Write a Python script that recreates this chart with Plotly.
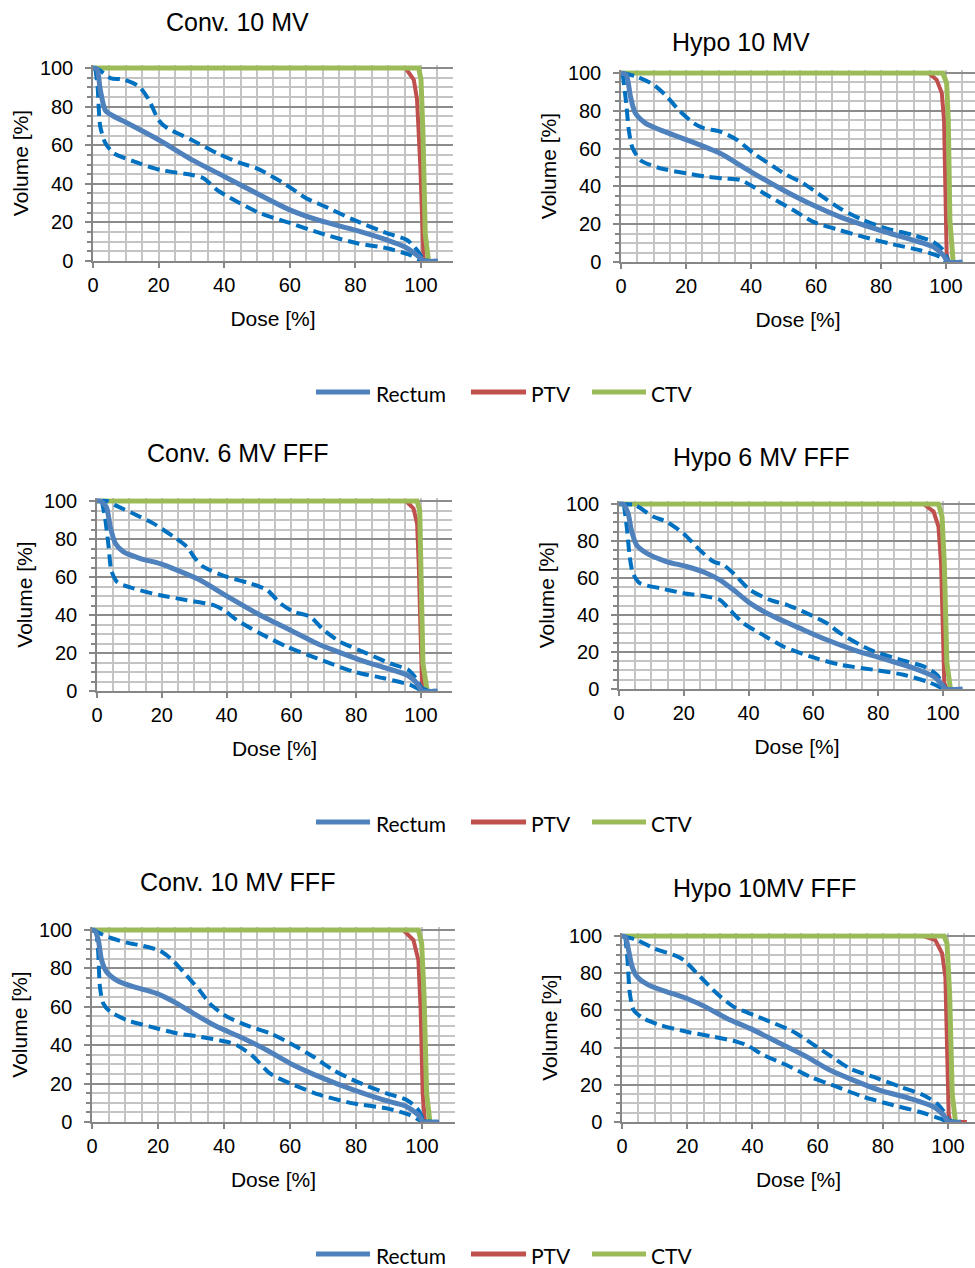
import plotly.graph_objects as go

FIG_W, FIG_H = 975, 1268

PANEL_TITLES = ["Conv. 10 MV", "Hypo 10 MV", "Conv. 6 MV FFF",
                "Hypo 6 MV FFF", "Conv. 10 MV FFF", "Hypo 10MV FFF"]
SERIES_NAMES = ["Rectum", "PTV", "CTV"]
DOSE_TICKS = [0, 20, 40, 60, 80, 100]
VOLUME_TICKS = [0, 20, 40, 60, 80, 100]
X_TITLE = "Dose [%]"
Y_TITLE = "Volume [%]"

# ---------------- Conv. 10 MV ----------------
C10_MEAN_DOSE = [0, 1.2, 2.2, 3.8, 6.3, 10.4, 20, 30.2, 40, 50, 60, 69, 80, 89.6, 95, 98.8, 101, 105]
C10_MEAN_VOL = [100, 99.5, 88.8, 78, 75, 71.5, 62.8, 52.4, 43.8, 35, 26.5, 21, 16, 10.9, 7.4, 3, 0, 0]
C10_MAX_DOSE = [0, 1.5, 5.3, 9.3, 14, 17, 20, 22.6, 30, 37.8, 45, 50, 59, 65, 70.8, 79.5, 89.6, 95.7, 98.8, 101, 105]
C10_MAX_VOL = [100, 99.5, 94.8, 94, 90.5, 83.6, 73, 68.9, 62.8, 55.9, 50.7, 48, 39.4, 32.5, 28.2, 21.3, 14.4, 10.9, 5.7, 0.5, 0]
C10_MIN_DOSE = [0.7, 1.4, 2.2, 3.8, 6.3, 12.4, 20.5, 30.2, 33.7, 37.8, 42.9, 51, 60.2, 69.3, 80.5, 89.6, 96.7, 99.8, 105]
C10_MIN_VOL = [100, 90.5, 69.7, 61, 55.9, 51.6, 47.2, 44.6, 42.9, 36.9, 31.7, 24.7, 19.6, 14.4, 9.2, 6.6, 3.1, 0.5, 0]
C10_PTV_DOSE = [0, 95.3, 97.8, 98.8, 99.8, 100.3, 100.8, 103]
C10_PTV_VOL = [100, 100, 93.9, 83.6, 49, 14.4, 0.5, 0]
C10_CTV_DOSE = [0, 99.3, 100, 100.6, 101.3, 102.3]
C10_CTV_VOL = [100, 100, 94, 66, 14, 0]

# ---------------- Hypo 10 MV ----------------
H10_MEAN_DOSE = [0, 1.6, 2.9, 4.4, 7.5, 12, 20.3, 30.5, 35.7, 40.8, 50, 59.2, 67.4, 79.7, 90, 96.1, 99.2, 100.7, 105]
H10_MEAN_VOL = [100, 99, 87.6, 78.8, 73.5, 69.9, 64.6, 57.5, 52.2, 46.9, 38, 30, 23.9, 16.8, 11.5, 8, 3.5, 0, 0]
H10_MAX_DOSE = [0.3, 4.9, 10, 14.1, 17.7, 22.3, 25.4, 30.5, 35.7, 40.8, 47, 51, 56.1, 61.3, 67.4, 74.6, 81.8, 90, 96.1, 99.2, 100.2, 101, 105]
H10_MAX_VOL = [100, 98, 93.8, 87.6, 80.5, 73.5, 70.8, 69, 64.6, 57.5, 50.4, 46, 41.6, 35.4, 28.3, 22.1, 17.7, 14.2, 10.6, 6.2, 2.7, 0, 0]
H10_MIN_DOSE = [0.5, 1.6, 2.4, 3.4, 5.9, 12, 20.3, 26.4, 31.6, 36.7, 39.8, 44.9, 53.1, 59.2, 67.4, 74.6, 82.8, 92, 98.2, 100.2, 105]
H10_MIN_VOL = [100, 84, 69.9, 61, 54, 49.6, 46.9, 45.1, 44.2, 43.4, 40.7, 35.4, 27.4, 21.2, 16.8, 13.3, 9.7, 6.2, 2.7, 0, 0]
H10_PTV_DOSE = [0, 94.6, 97.1, 98.7, 99.4, 99.7, 100.2, 100.7, 103]
H10_PTV_VOL = [100, 100, 96.5, 89.4, 75, 39.8, 4.4, 0, 0]
H10_CTV_DOSE = [0, 99, 100.2, 100.7, 101.2, 102.2]
H10_CTV_VOL = [100, 100, 94.7, 75, 22, 0]

# ---------------- Conv. 6 MV FFF ----------------
C6F_MEAN_DOSE = [0, 1, 2.9, 4.1, 5.7, 8.2, 13.4, 19.5, 24.7, 31.9, 37, 42.2, 49.4, 59.7, 67.9, 73, 81.3, 89.5, 95.7, 98.8, 100.3, 105]
C6F_MEAN_VOL = [100, 100, 96.8, 86.3, 77.6, 73.2, 69.7, 67, 63.6, 58.3, 53.1, 47.8, 40.8, 32, 25, 21.5, 16.3, 11.9, 8.4, 4, 0, 0]
C6F_MAX_DOSE = [0, 3.1, 5.7, 11.3, 17.5, 23.7, 27.8, 30.3, 32.9, 40.1, 47.3, 52.5, 56.6, 60.7, 65.8, 70, 75.1, 83.3, 90.5, 96.2, 98.8, 100.3, 105]
C6F_MAX_VOL = [100, 100, 97.7, 93.3, 88.1, 81.1, 75.8, 69.7, 65.3, 60.1, 56.6, 53.1, 46.1, 41.7, 39.1, 32, 25.9, 19.8, 14.5, 11, 5.8, 1.4, 0]
C6F_MIN_DOSE = [1.5, 2.6, 3.6, 4.4, 6.2, 11.3, 19.5, 27.8, 36, 39.1, 43.2, 50.4, 58.6, 67.9, 79.2, 88.5, 96.7, 100, 105]
C6F_MIN_VOL = [100, 89.8, 75.8, 63.6, 57.4, 54, 50.4, 47.8, 45.2, 42.6, 37.3, 30.3, 23.3, 17.2, 10.2, 6.7, 3.2, 0.5, 0]
C6F_PTV_DOSE = [0, 95.4, 97.7, 98.8, 99.3, 99.8, 100.3, 101.3, 104.4]
C6F_PTV_VOL = [100, 100, 96, 88, 67, 32, 4, 0, 0]
C6F_CTV_DOSE = [0, 98.8, 99.6, 100, 100.6, 101.9]
C6F_CTV_VOL = [100, 100, 95, 67, 14.5, 0]

# ---------------- Hypo 6 MV FFF ----------------
H6F_MEAN_DOSE = [0, 1.2, 2.8, 3.8, 5.4, 8.5, 14.6, 20.8, 27, 31.1, 35.3, 40.4, 46.6, 56.9, 64.1, 72.4, 82.7, 90.9, 97.1, 99.7, 100.7, 106]
H6F_MEAN_VOL = [100, 100, 95, 86, 77.9, 73.4, 68.9, 66.2, 62.6, 59, 53.6, 46.4, 40.1, 32, 26.6, 21.2, 15.8, 11.3, 6.8, 2.3, 0, 0]
H6F_MAX_DOSE = [0.2, 4.8, 10.5, 14.6, 19.8, 24.9, 29.1, 32.2, 35.3, 40.4, 46.6, 51.8, 57.9, 64.1, 68.2, 77.5, 86.8, 94, 98.1, 100, 101, 106]
H6F_MAX_VOL = [100, 99.5, 93.2, 90.5, 84.2, 75.2, 68.9, 67.1, 62.6, 53.6, 48.2, 45.5, 41, 35.6, 30.2, 21.2, 15.8, 12.2, 7.7, 2.3, 0, 0]
H6F_MIN_DOSE = [1.5, 2.5, 3.3, 4.3, 6.4, 12.6, 19.8, 27, 31.1, 34.2, 38.4, 43.5, 50.7, 59, 68.2, 78.6, 87.8, 95, 98.6, 100.2, 106]
H6F_MIN_VOL = [100, 86, 71.6, 62.6, 57.2, 54.5, 51.8, 50, 48.2, 42.8, 35.6, 30.2, 23, 17.6, 13.1, 10.4, 7.7, 4.1, 1.4, 0, 0]
H6F_PTV_DOSE = [0, 94, 97.1, 98.6, 99.4, 100, 100.4, 101.2, 104]
H6F_PTV_VOL = [100, 100, 95.9, 87.8, 68, 32, 3.2, 0, 0]
H6F_CTV_DOSE = [0, 98.6, 99.7, 100.4, 101.2, 102.3]
H6F_CTV_VOL = [100, 100, 93.2, 68, 14, 0]

# ---------------- Conv. 10 MV FFF ----------------
C10F_MEAN_DOSE = [0, 0.9, 1.9, 2.9, 4.4, 7.5, 12.5, 19.6, 25.7, 30.7, 37.8, 44.8, 52.9, 61, 70.1, 79.2, 88.3, 95.4, 98.9, 100.4, 105]
C10F_MEAN_VOL = [100, 99.7, 94.8, 84.4, 78.3, 73.8, 70.5, 67, 61.8, 56.6, 49.7, 44.4, 37.5, 29.7, 22.7, 16.7, 11.5, 8, 3.6, 0, 0]
C10F_MAX_DOSE = [0, 1.4, 5.5, 10.5, 15.6, 20.6, 24.6, 28.7, 32.7, 35.8, 40.8, 47.9, 54, 60, 67.1, 73.1, 80.2, 89.3, 95.4, 98.9, 100.6, 105]
C10F_MAX_VOL = [100, 99, 96, 93.4, 91.7, 89.2, 84, 76.2, 68.4, 61.5, 54.9, 49.7, 46.2, 41, 34, 27.1, 21, 14.9, 11.5, 6.3, 1, 0]
C10F_MIN_DOSE = [1.2, 1.4, 1.9, 2.4, 3.4, 5.5, 10.5, 17.6, 25.7, 32.7, 40.8, 43.8, 48.9, 53.9, 60, 69.1, 79.2, 89.3, 96.4, 99.6, 105]
C10F_MIN_VOL = [100, 98.3, 87.8, 70.5, 61.8, 57.5, 53.1, 49.7, 46.2, 44.4, 41.8, 40.1, 34, 25.3, 20.1, 14.1, 9.7, 7.1, 3.6, 0.7, 0]
C10F_PTV_DOSE = [0, 94.3, 97.4, 98.9, 99.6, 100.2, 100.9, 103]
C10F_PTV_VOL = [100, 100, 94.8, 84.4, 58.3, 14.9, 0, 0]
C10F_CTV_DOSE = [0, 98.9, 99.9, 100.6, 101.4, 102.4]
C10F_CTV_VOL = [100, 100, 93, 67, 15, 0]

# ---------------- Hypo 10MV FFF ----------------
H10F_MEAN_DOSE = [0, 1, 2, 3.1, 4.6, 8.2, 13.8, 19.9, 25.6, 32.2, 40.4, 48.6, 56.7, 63.9, 71.1, 79.2, 88.4, 95.6, 98.7, 100.2, 104]
H10F_MEAN_VOL = [100, 99.6, 92.5, 83.5, 78.1, 73.6, 70, 66.4, 61.9, 55.7, 49.4, 42.2, 35, 27.8, 22.4, 17, 12.6, 8.1, 3.6, 0, 0]
H10F_MAX_DOSE = [0, 4.6, 9.7, 15.8, 18.9, 24, 29.1, 34.3, 40.4, 45.5, 51.6, 56.7, 62.9, 70, 77.2, 85.4, 92.5, 96.6, 99.2, 100.2, 104]
H10F_MAX_VOL = [100, 97.8, 93.4, 89.8, 87.1, 78.1, 69.1, 61.9, 57.5, 53.9, 49.4, 44, 36.8, 28.7, 24.2, 18.9, 14.4, 9.9, 4.5, 0.9, 0]
H10F_MIN_DOSE = [1, 1.7, 2.4, 3.6, 6.6, 11.8, 19.9, 28.1, 35.3, 38.3, 43.5, 50.6, 57.8, 66, 74.1, 83.3, 91.4, 97.6, 100.2, 104]
H10F_MIN_VOL = [100, 87.1, 69.1, 60.1, 55.7, 52.1, 48.5, 45.8, 43.1, 41.3, 35.9, 30.5, 24.2, 18.9, 13.5, 9, 5.4, 1.8, 0, 0]
H10F_PTV_DOSE = [0, 92.5, 96.1, 98.2, 99.2, 99.7, 100.2, 100.7, 105.8]
H10F_PTV_VOL = [100, 100, 97.8, 90.6, 78, 42.2, 4.5, 0, 0]
H10F_CTV_DOSE = [0, 98.8, 99.7, 100.5, 101.3, 102.3]
H10F_CTV_VOL = [100, 100, 96, 69, 15, 0]

PANEL_DATA = [
    dict(mean=(C10_MEAN_DOSE, C10_MEAN_VOL), upper=(C10_MAX_DOSE, C10_MAX_VOL),
         lower=(C10_MIN_DOSE, C10_MIN_VOL), ptv=(C10_PTV_DOSE, C10_PTV_VOL), ctv=(C10_CTV_DOSE, C10_CTV_VOL)),
    dict(mean=(H10_MEAN_DOSE, H10_MEAN_VOL), upper=(H10_MAX_DOSE, H10_MAX_VOL),
         lower=(H10_MIN_DOSE, H10_MIN_VOL), ptv=(H10_PTV_DOSE, H10_PTV_VOL), ctv=(H10_CTV_DOSE, H10_CTV_VOL)),
    dict(mean=(C6F_MEAN_DOSE, C6F_MEAN_VOL), upper=(C6F_MAX_DOSE, C6F_MAX_VOL),
         lower=(C6F_MIN_DOSE, C6F_MIN_VOL), ptv=(C6F_PTV_DOSE, C6F_PTV_VOL), ctv=(C6F_CTV_DOSE, C6F_CTV_VOL)),
    dict(mean=(H6F_MEAN_DOSE, H6F_MEAN_VOL), upper=(H6F_MAX_DOSE, H6F_MAX_VOL),
         lower=(H6F_MIN_DOSE, H6F_MIN_VOL), ptv=(H6F_PTV_DOSE, H6F_PTV_VOL), ctv=(H6F_CTV_DOSE, H6F_CTV_VOL)),
    dict(mean=(C10F_MEAN_DOSE, C10F_MEAN_VOL), upper=(C10F_MAX_DOSE, C10F_MAX_VOL),
         lower=(C10F_MIN_DOSE, C10F_MIN_VOL), ptv=(C10F_PTV_DOSE, C10F_PTV_VOL), ctv=(C10F_CTV_DOSE, C10F_CTV_VOL)),
    dict(mean=(H10F_MEAN_DOSE, H10F_MEAN_VOL), upper=(H10F_MAX_DOSE, H10F_MAX_VOL),
         lower=(H10F_MIN_DOSE, H10F_MIN_VOL), ptv=(H10F_PTV_DOSE, H10F_PTV_VOL), ctv=(H10F_CTV_DOSE, H10F_CTV_VOL)),
]

# ---------------- styling ----------------
MEAN_COLOR = "#4F81BD"
RANGE_COLOR = "#0070C0"
PTV_COLOR = "#C0504D"
CTV_COLOR = "#9BBB59"
SERIES_COLORS = [MEAN_COLOR, PTV_COLOR, CTV_COLOR]
GRID_LIGHT = "#C4C4C4"
GRID_DARK = "#8C8C8C"
AXIS_COLOR = "#868686"
AXIS_FONT = "Liberation Sans, Arial, sans-serif"
LEGEND_FONT = "Lato, Carlito, Calibri, sans-serif"
Y_TOP = 101.5  # a little head-room so the 100 % plateau is not clipped

# Plot boxes in pixels: (x at dose 0, x at dose 100, right edge, y at volume 100, y at volume 0)
BOXES = [
    (93, 421, 453, 68, 261),
    (621, 946, 975, 73, 262),
    (97, 421, 452, 501, 691),
    (619, 943, 975, 504, 689),
    (92, 422, 455, 930, 1122),
    (622, 948, 975, 936, 1122),
]
TITLE_POS = [(237, 22), (741, 42), (238, 453), (761, 457), (237, 882), (764, 888)]
LEGEND_ROWS_Y = [392, 822, 1254]
LEGEND_ITEMS_X = [(316, 370, 374), (471, 526, 529), (592, 646, 649)]  # line start, line end, text start

fig = go.Figure()
annotations = []
shapes = []

for i, pdata in enumerate(PANEL_DATA):
    k = "" if i == 0 else str(i + 1)
    xa, ya = "x" + k, "y" + k
    x0, x100, right, y100, y0 = BOXES[i]
    xunit = (x100 - x0) / 100.0
    yunit = (y0 - y100) / 100.0
    x_max = (right - x0) / xunit
    top_px = y0 - Y_TOP * yunit

    common = dict(xaxis=xa, yaxis=ya, mode="lines", showlegend=False, hoverinfo="skip")
    fig.add_trace(go.Scatter(x=pdata["ptv"][0], y=pdata["ptv"][1], name="PTV",
                             line=dict(color=PTV_COLOR, width=4), **common))
    fig.add_trace(go.Scatter(x=pdata["ctv"][0], y=pdata["ctv"][1], name="CTV",
                             line=dict(color=CTV_COLOR, width=5), **common))
    for key in ("upper", "lower"):
        fig.add_trace(go.Scatter(x=pdata[key][0], y=pdata[key][1], name="Rectum " + key,
                                 line=dict(color=RANGE_COLOR, width=4, dash="12px,6px",
                                           shape="spline", smoothing=0.7), **common))
    fig.add_trace(go.Scatter(x=pdata["mean"][0], y=pdata["mean"][1], name="Rectum",
                             line=dict(color=MEAN_COLOR, width=5, shape="spline", smoothing=0.7),
                             **common))

    fig.layout["xaxis" + k] = dict(
        domain=[x0 / FIG_W, min(right / FIG_W, 1.0)], range=[0, x_max], anchor=ya,
        tickvals=DOSE_TICKS, ticktext=[str(v) for v in DOSE_TICKS],
        ticks="outside", ticklen=5, tickwidth=1.5, tickcolor=AXIS_COLOR,
        showline=True, linecolor=AXIS_COLOR, linewidth=1.5,
        showgrid=True, gridcolor=GRID_LIGHT, gridwidth=1.5,
        minor=dict(tick0=0, dtick=5, showgrid=True, gridcolor=GRID_LIGHT, gridwidth=1.5, ticks=""),
        zeroline=False, automargin=False, fixedrange=True,
        tickfont=dict(family=AXIS_FONT, size=20, color="#000000"),
        title=dict(text=X_TITLE, font=dict(family=AXIS_FONT, size=21, color="#000000"), standoff=17),
    )
    fig.layout["yaxis" + k] = dict(
        domain=[1 - y0 / FIG_H, 1 - top_px / FIG_H], range=[0, Y_TOP], anchor=xa,
        tickvals=VOLUME_TICKS, ticktext=[str(v) for v in VOLUME_TICKS],
        ticks="outside", ticklen=6, tickwidth=1.5, tickcolor=AXIS_COLOR,
        ticklabelstandoff=8,
        showline=True, linecolor=AXIS_COLOR, linewidth=1.5,
        showgrid=True, gridcolor=GRID_DARK, gridwidth=1.5,
        minor=dict(tick0=0, dtick=5, showgrid=True, gridcolor=GRID_LIGHT, gridwidth=1.5,
                   ticks="outside", ticklen=4, tickwidth=1.5, tickcolor=AXIS_COLOR),
        zeroline=False, automargin=False, fixedrange=True,
        tickfont=dict(family=AXIS_FONT, size=20, color="#000000"),
        title=dict(text=Y_TITLE, font=dict(family=AXIS_FONT, size=21, color="#000000"), standoff=6),
    )

    tx, ty = TITLE_POS[i]
    annotations.append(dict(text=PANEL_TITLES[i], x=tx / FIG_W, y=1 - ty / FIG_H,
                            xref="paper", yref="paper", xanchor="center", yanchor="middle",
                            showarrow=False, font=dict(family=AXIS_FONT, size=25, color="#000000")))

# one legend strip under each row of panels
for ly in LEGEND_ROWS_Y:
    for (lx0, lx1, tx0), name, color in zip(LEGEND_ITEMS_X, SERIES_NAMES, SERIES_COLORS):
        shapes.append(dict(type="line", xref="paper", yref="paper",
                           x0=lx0 / FIG_W, x1=lx1 / FIG_W, y0=1 - ly / FIG_H, y1=1 - ly / FIG_H,
                           line=dict(color=color, width=5)))
        annotations.append(dict(text=name, x=tx0 / FIG_W, y=1 - (ly + 1) / FIG_H,
                                xref="paper", yref="paper", xanchor="left", yanchor="middle",
                                showarrow=False,
                                font=dict(family=LEGEND_FONT, size=21, color="#000000")))

fig.update_layout(
    width=FIG_W, height=FIG_H,
    margin=dict(l=0, r=0, t=0, b=0),
    paper_bgcolor="#FFFFFF", plot_bgcolor="#FFFFFF",
    template="none", showlegend=False,
    annotations=annotations, shapes=shapes,
)

fig.write_html("out.html")
